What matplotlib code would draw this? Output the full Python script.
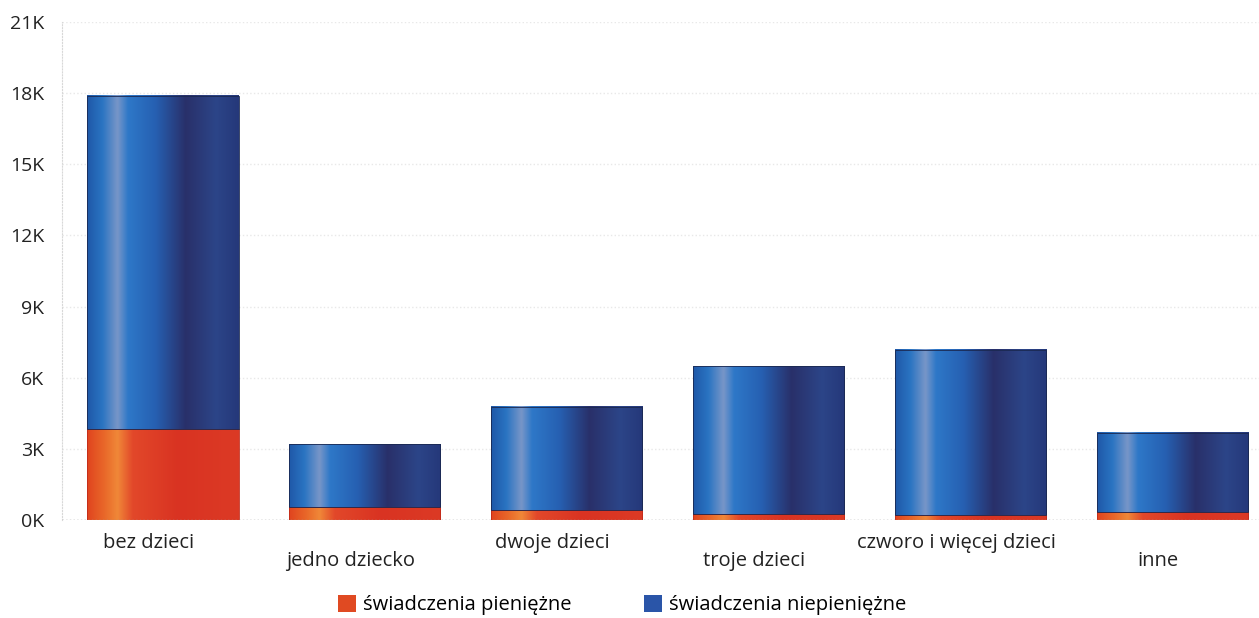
import numpy as np
import matplotlib
matplotlib.use("Agg")
import matplotlib.pyplot as plt
from matplotlib.colors import LinearSegmentedColormap
from matplotlib.patches import Patch
from matplotlib.ticker import FuncFormatter, MultipleLocator

plt.rcParams['font.family'] = ['Open Sans', 'DejaVu Sans']

categories = ["bez dzieci", "jedno dziecko", "dwoje dzieci", "troje dzieci",
              "czworo i więcej dzieci", "inne"]
pieniezne = [3850, 560, 420, 260, 210, 330]
niepieniezne = [14050, 2640, 4350, 6240, 6960, 3340]
series_names = ["świadczenia pieniężne", "świadczenia niepieniężne"]

blue_cmap = LinearSegmentedColormap.from_list("b", [
    (0.00, "#1f58a8"), (0.10, "#2a74c2"), (0.20, "#7896c8"), (0.27, "#2e78c8"),
    (0.45, "#2660b2"), (0.65, "#29306a"), (0.85, "#2c4588"), (1.00, "#25387a")])
red_cmap = LinearSegmentedColormap.from_list("r", [
    (0.00, "#e0441f"), (0.12, "#e96a2a"), (0.20, "#f08838"), (0.30, "#e2482a"),
    (0.60, "#d93322"), (1.00, "#dc3a25")])

fig = plt.figure(figsize=(12.59, 6.18), dpi=100)
ax = fig.add_axes([62/1259, (618-520)/618, (1259-62)/1259, (520-22)/618])

x = np.arange(len(categories))
width = 0.75
grad = np.linspace(0, 1, 256).reshape(1, -1)

bottoms = np.zeros(len(categories))
for vals, cmap, ec in [(pieniezne, red_cmap, "#c02a1a"), (niepieniezne, blue_cmap, "#1a2850")]:
    vals = np.array(vals, dtype=float)
    bars = ax.bar(x, vals, width, bottom=bottoms, color="none", edgecolor=ec, linewidth=0.6, zorder=3)
    for b in bars:
        x0, y0 = b.get_x(), b.get_y()
        ax.imshow(grad, cmap=cmap, aspect="auto", interpolation="bicubic",
                  extent=[x0, x0 + b.get_width(), y0, y0 + b.get_height()], zorder=2)
    bottoms = bottoms + vals

ax.set_xlim(-0.5, 5.43)
ax.set_ylim(0, 21000)
ax.yaxis.set_major_locator(MultipleLocator(3000))
ax.yaxis.set_major_formatter(FuncFormatter(lambda v, p: f"{int(round(v/1000))}K"))
ax.tick_params(axis='y', length=0, labelsize=14, colors="#222222", pad=13)
ax.set_xticks([])
for s in ["top", "right", "bottom"]:
    ax.spines[s].set_visible(False)
ax.spines["left"].set_color("#d8d8d8")
ax.spines["left"].set_linestyle(":")
ax.axhline(0, color="#9a9a9a", linestyle=":", linewidth=1, zorder=4)
ax.grid(axis='y', color="#e8e8e8", linestyle=":", linewidth=1, zorder=0)
ax.set_axisbelow(True)

for i, c in enumerate(categories):
    yoff = -0.047 if i % 2 == 0 else -0.083
    ax.text(i - 0.07, yoff, c, transform=ax.get_xaxis_transform(), ha="center", va="center",
            fontsize=14.5, color="#222222")

handles = [Patch(facecolor="#e04a22", edgecolor="none"), Patch(facecolor="#2a55a8", edgecolor="none")]
fig.legend(handles, series_names, loc="center", bbox_to_anchor=(0.494, (618-605)/618), ncol=2,
           frameon=False, fontsize=14.5, handlelength=0.9, handleheight=0.9,
           columnspacing=3.6, handletextpad=0.35, borderpad=0)

fig.savefig("out.png", dpi=100)
